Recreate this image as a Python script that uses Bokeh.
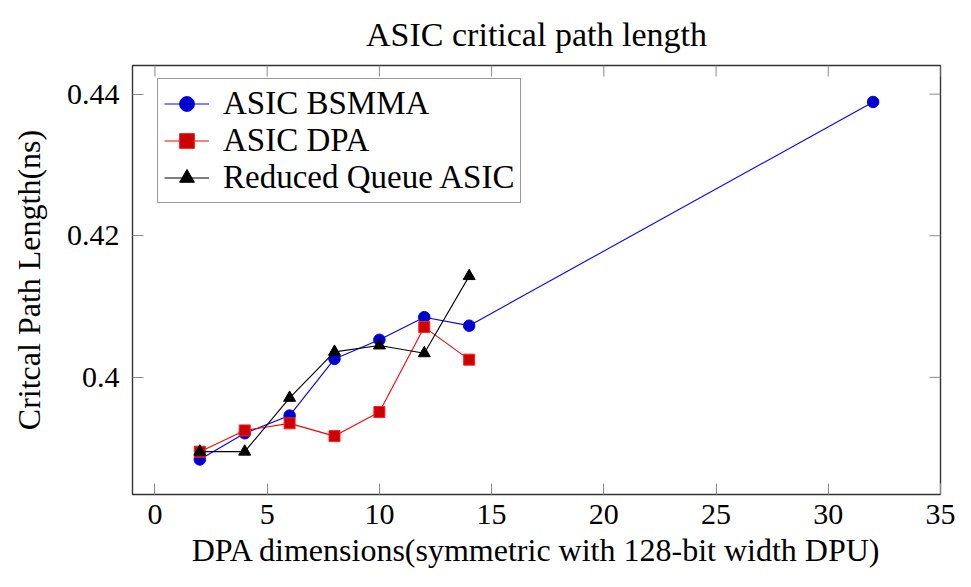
from bokeh.plotting import figure
from bokeh.models import Range1d, FixedTicker, Legend, LegendItem
from bokeh.embed import file_html
from bokeh.resources import INLINE

# ---- data ----
bsmma_x = [2, 4, 6, 8, 10, 12, 14, 32]
bsmma_y = [0.3884, 0.3921, 0.3946, 0.4026, 0.4053, 0.4085, 0.4073, 0.4389]
dpa_x = [2, 4, 6, 8, 10, 12, 14]
dpa_y = [0.3895, 0.3925, 0.3935, 0.3917, 0.3951, 0.4071, 0.4025]
rq_x = [2, 4, 6, 8, 10, 12, 14]
rq_y = [0.3895, 0.3895, 0.3971, 0.4036, 0.4045, 0.4034, 0.4143]

x_ticks = [0, 5, 10, 15, 20, 25, 30, 35]
y_ticks = [0.40, 0.42, 0.44]
y_tick_labels = ["0.4", "0.42", "0.44"]

title_text = "ASIC critical path length"
x_label = "DPA dimensions(symmetric with 128-bit width DPU)"
y_label = "Critcal Path Length(ns)"
series_names = ["ASIC BSMMA", "ASIC DPA", "Reduced Queue ASIC"]

FONT = "Liberation Serif"
X0, X1 = -1, 35
Y0, Y1 = 0.38345, 0.44405

W, H = 955, 571
BL, BR, BT, BB = 132, 15, 66, 77
frame_w = W - BL - BR
frame_h = H - BT - BB

p = figure(width=W, height=H, output_backend="svg", toolbar_location=None,
           x_range=Range1d(X0, X1), y_range=Range1d(Y0, Y1),
           min_border_left=BL, min_border_right=BR, min_border_top=0,
           min_border_bottom=BB)

p.title.text = title_text
p.title.text_font = FONT
p.title.text_font_size = "34px"
p.title.text_font_style = "normal"
p.title.align = "center"
p.title.text_color = "black"
p.title.standoff = 26

p.grid.visible = False
p.outline_line_color = "#333333"
p.outline_line_width = 1.4
p.background_fill_color = "white"
p.border_fill_color = "white"

TICK = 11
TICK_COLOR = "#8a8a8a"

xa = p.xaxis[0]
ya = p.yaxis[0]
xa.ticker = FixedTicker(ticks=x_ticks)
ya.ticker = FixedTicker(ticks=y_ticks)
ya.major_label_overrides = {t: l for t, l in zip(y_ticks, y_tick_labels)}
for ax in (xa, ya):
    ax.axis_line_color = None
    ax.major_tick_in = TICK
    ax.major_tick_out = 0
    ax.minor_tick_line_color = None
    ax.major_tick_line_color = TICK_COLOR
    ax.major_tick_line_width = 1
    ax.major_label_text_font = FONT
    ax.major_label_text_color = "black"
    ax.major_label_text_font_size = "30px"
    ax.axis_label_text_font = FONT
    ax.axis_label_text_font_style = "normal"
    ax.axis_label_text_color = "black"
xa.axis_label = x_label
ya.axis_label = y_label
xa.axis_label_text_font_size = "32px"
ya.axis_label_text_font_size = "32px"
xa.major_label_standoff = 10
xa.axis_label_standoff = 5
ya.major_label_standoff = 13
ya.axis_label_standoff = 17

# mirrored (inner) ticks on the top and right edges of the frame
dx = (X1 - X0) / frame_w * TICK
dy = (Y1 - Y0) / frame_h * TICK
p.segment(x0=x_ticks, y0=[Y1] * len(x_ticks), x1=x_ticks, y1=[Y1 - dy] * len(x_ticks),
          line_color=TICK_COLOR, line_width=1)
p.segment(x0=[X1] * len(y_ticks), y0=y_ticks, x1=[X1 - dx] * len(y_ticks), y1=y_ticks,
          line_color=TICK_COLOR, line_width=1)

l1 = p.line(bsmma_x, bsmma_y, line_color="#0000ff", line_width=1.1)
m1 = p.scatter(bsmma_x, bsmma_y, marker="circle", size=11.5,
               fill_color="#0000cc", line_color="#0000ff", line_width=1)
l2 = p.line(dpa_x, dpa_y, line_color="#ff0000", line_width=1.1)
m2 = p.scatter(dpa_x, dpa_y, marker="square", size=11,
               fill_color="#cc0000", line_color="#ff2020", line_width=1)
l3 = p.line(rq_x, rq_y, line_color="black", line_width=1.1)
m3 = p.scatter(rq_x, rq_y, marker="triangle", size=12,
               fill_color="black", line_color="black", line_width=1)

legend = Legend(items=[
    LegendItem(label=series_names[0], renderers=[l1, m1]),
    LegendItem(label=series_names[1], renderers=[l2, m2]),
    LegendItem(label=series_names[2], renderers=[l3, m3]),
], location=(25, frame_h - 14 - 123))
legend.label_text_font = FONT
legend.label_text_font_size = "33px"
legend.label_text_color = "black"
legend.glyph_width = 45
legend.glyph_height = 37
legend.label_height = 37
legend.label_standoff = 14
legend.spacing = 0
legend.padding = 6
legend.margin = 0
legend.border_line_color = "#333333"
legend.border_line_width = 1.4
legend.background_fill_alpha = 1
p.add_layout(legend, "center")

open("out.html", "w").write(file_html(p, INLINE))
